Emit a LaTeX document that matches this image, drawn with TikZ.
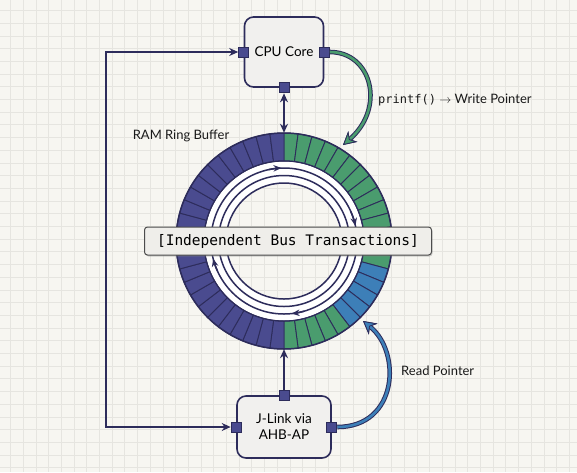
\documentclass[tikz,border=0pt]{standalone}
\usepackage{fontspec}
\setmainfont{Lato}
\setmonofont{DejaVu Sans Mono}
\usetikzlibrary{positioning}
\usetikzlibrary{shadows}
\usetikzlibrary{arrows.meta}

\definecolor{bgc}{HTML}{F7F6F1}
\definecolor{gridc}{HTML}{E6E5E0}
\definecolor{navyc}{HTML}{2D2C5B}
\definecolor{indigoc}{HTML}{4A4B8F}
\definecolor{greenc}{HTML}{4A9C6E}
\definecolor{bluec}{HTML}{3D7FB8}
\definecolor{boxc}{HTML}{F1F0EE}
\definecolor{bannerc}{HTML}{EFEEEA}

\begin{document}
\begin{tikzpicture}[x=1pt,y=-1pt,
    box/.style={draw=navyc, line width=1.6pt, fill=boxc, rounded corners=9pt, align=center, font=\fontsize{13.5}{16}\selectfont},
    port/.style={draw=navyc, line width=1pt, fill=indigoc, minimum size=10pt, inner sep=0pt},
    link/.style={draw=navyc, line width=1.8pt, arrows={-Stealth[length=9pt,width=8pt]}},
    ptr/.style={draw=#1, line width=2.6pt, preaction={draw=navyc, line width=4.6pt},
      -{Stealth[length=13pt,width=14pt,color=navyc,fill=#1,line width=0.8pt]}},
    ringline/.style={draw=navyc, line width=1.5pt},
    label/.style={font=\fontsize{13}{16}\selectfont, text=black!90, inner sep=1pt}]
% paper and grid
\useasboundingbox (0,0) rectangle (577,472);
\fill[bgc] (0,0) rectangle (577,472);
\foreach \k in {0,...,44} \draw[gridc, line width=0.7pt] ({10.5+12.7*\k},0) -- ++(0,472);
\foreach \k in {0,...,36} \draw[gridc, line width=0.7pt] (0,{10.5+12.7*\k}) -- ++(577,0);

% ring buffer
\node[circle, minimum size=216pt, inner sep=0pt] (ring) at (284,241) {};
\foreach \i in {0,...,47}{
  \pgfmathsetmacro\a{-90+7.5*\i}
  \pgfmathsetmacro\b{\a+7.5}
  \ifnum\i<24 \def\segc{greenc}\else\def\segc{indigoc}\fi
  \ifnum\i>13 \ifnum\i<19 \def\segc{bluec}\fi\fi
  \filldraw[fill=\segc, draw=navyc, line width=0.9pt]
    ([shift={(\a:108)}]ring.center) arc[start angle=\a, end angle=\b, radius=108]
    -- ([shift={(\b:80)}]ring.center) arc[start angle=\b, end angle=\a, radius=80] -- cycle;
}
\draw[navyc, line width=1.5pt] (ring.center) circle[radius=108] (ring.center) circle[radius=80];
\fill[white, even odd rule] (ring.center) circle[radius=79.2] (ring.center) circle[radius=58];
\foreach \r in {73,65.5,58} \draw[ringline] (ring.center) circle[radius=\r];
\foreach \s/\e in {-102/-92, -24/-12, 74/84, 156/166}
  \draw[ringline, -{Stealth[length=8pt,width=6.5pt]}] ([shift={(\s:73)}]ring.center) arc[start angle=\s, end angle=\e, radius=73];
\node[label] (ramlbl) at (181,136) {RAM Ring Buffer};

% boxes
\node[box, minimum width=79pt, minimum height=70pt] (cpu) [above=45pt of ring] {CPU Core};
\node[box, minimum width=94pt, minimum height=62pt] (jlink) [below=46pt of ring] {J-Link via\\AHB-AP};
\node[port] (cpuW) at (cpu.west) {};
\node[port] (cpuE) at (cpu.east) {};
\node[port] (cpuS) at (cpu.south) {};
\node[port] (jlW) at (jlink.west) {};
\node[port] (jlE) at (jlink.east) {};
\node[port] (jlN) at (jlink.north) {};

% connectors
\coordinate (loopx) at (106,240);
\draw[link, arrows={Stealth[length=9pt,width=8pt]-Stealth[length=9pt,width=8pt]}] (cpuW.west) -| (loopx) |- (jlW.west);
\draw[link, arrows={Stealth[length=9pt,width=8pt]-Stealth[length=9pt,width=8pt]}] (cpuS.south) -- (ring.north);
\draw[link] (jlN.north) -- (ring.south);
\coordinate (wtip) at (343,145);
\coordinate (rtip) at (363,321);
\draw[ptr=greenc] (cpuE.east) .. controls (372,52) and (386,108) .. (wtip);
\draw[ptr=bluec] (jlE.east) .. controls (398,427) and (402,352) .. (rtip);
\node[label, anchor=west] (writelbl) at (377,100) {{\ttfamily\fontsize{12}{14}\selectfont printf()} $\rightarrow$ Write Pointer};
\node[label, anchor=west] (readlbl) at (400,371) {Read Pointer};

% banner
\node[draw=black!70, line width=1pt, fill=bannerc, rounded corners=3pt, minimum width=287pt, minimum height=28pt,
  drop shadow={shadow xshift=1pt, shadow yshift=-1.5pt, opacity=0.35},
  font=\ttfamily\fontsize{14.5}{16}\selectfont] (banner) at (288,241) {[Independent Bus Transactions]};
\end{tikzpicture}
\end{document}
